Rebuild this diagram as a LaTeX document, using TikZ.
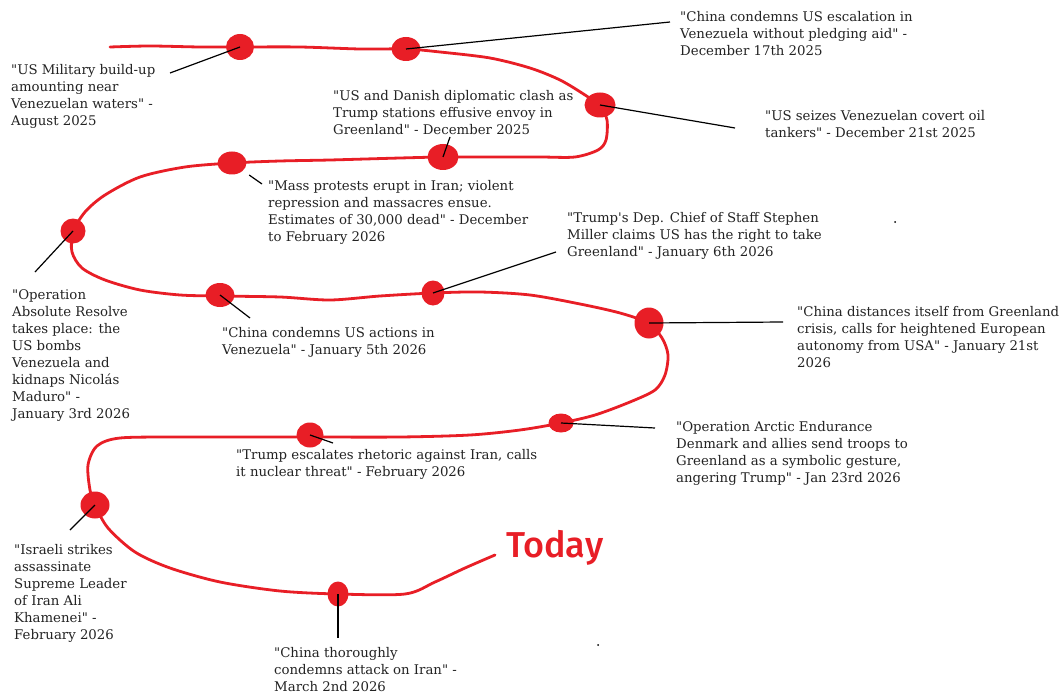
\documentclass[tikz,border=0pt]{standalone}
\usepackage{fontspec}
\usetikzlibrary{shapes.geometric}
\newfontfamily\lblfamily{DejaVu Serif}
\newfontfamily\todayfamily{Fira Sans}[UprightFont={* Medium}]
\newcommand{\lblfont}{\lblfamily\fontsize{13.3}{17}\selectfont}
\definecolor{pred}{RGB}{232,30,38}
\definecolor{ink}{RGB}{35,35,35}
\tikzset{
  evt/.style={ellipse, fill=pred, draw=none, inner sep=0pt},
  lbl/.style={anchor=north west, align=left, inner sep=0pt, font=\lblfont, text=ink, yshift=-2.5pt},
  lead/.style={draw=black, line width=1.2pt},
  route/.style={draw=pred, line width=2.8pt, line cap=round, line join=round},
  speck/.style={circle, fill=black, inner sep=0pt, minimum size=2pt}
}
\begin{document}
\begin{tikzpicture}[x=1pt,y=-1pt]
\useasboundingbox (0,0) rectangle (1062,695);
\fill[white] (0,0) rectangle (1062,695);
% the red route
\draw[route] plot[smooth, tension=0.5] coordinates {
 (110,47) (150,46) (200,47) (240,47) (300,47) (360,49) (406,49) (440,52) (490,58) (530,68) (560,80) (585,95) (600,106) (607,120) (606,140) (598,150) (575,157) (540,157) (490,157) (443,157) (400,158) (330,160) (280,161) (232,163) (185,167) (140,177) (105,195) (85,212) (73,232) (72,252) (82,268) (105,280) (140,290) (180,295) (219,296) (280,297) (330,300) (380,296) (433,293) (480,292) (530,295) (580,304) (620,313) (648,323) (662,338) (668,355) (665,375) (655,390) (630,402) (595,415) (561,423) (520,430) (470,435) (400,437) (310,437) (250,437) (180,437) (120,438) (97,446) (88,465) (90,490) (95,505) (108,528) (135,552) (170,568) (220,582) (280,591) (338,594) (405,594) (435,582) (465,568) (495,555)};
% events
\node[evt, minimum width=28pt, minimum height=26pt] (d1) at (240,47) {};
\node[evt, minimum width=29pt, minimum height=24pt] (d2) at (406,49) {};
\node[evt, minimum width=31pt, minimum height=25pt] (d3) at (600,105) {};
\node[evt, minimum width=31pt, minimum height=26pt] (d4) at (443,157) {};
\node[evt, minimum width=29pt, minimum height=23pt] (d5) at (232,163) {};
\node[evt, minimum width=25pt, minimum height=25pt] (d6) at (73,231) {};
\node[evt, minimum width=29pt, minimum height=24pt] (d7) at (220,295) {};
\node[evt, minimum width=23pt, minimum height=25pt] (d8) at (433,293) {};
\node[evt, minimum width=29pt, minimum height=31pt] (d9) at (649,323) {};
\node[evt, minimum width=25pt, minimum height=19pt] (d10) at (561,423) {};
\node[evt, minimum width=27pt, minimum height=25pt] (d11) at (310,435) {};
\node[evt, minimum width=29pt, minimum height=27pt] (d12) at (95,505) {};
\node[evt, minimum width=21pt, minimum height=25pt] (d13) at (338,594) {};
% labels
\node[lbl] (t1) at (11,62) {"US Military build-up\\amounting near\\Venezuelan waters" -\\August 2025};
\node[lbl] (t2) at (680,9) {"China condemns US escalation in\\Venezuela without pledging aid" -\\December 17th 2025};
\node[lbl] (t3) at (333,88) {"US and Danish diplomatic clash as\\Trump stations effusive envoy in\\Greenland" - December 2025};
\node[lbl] (t4) at (765,108) {"US seizes Venezuelan covert oil\\tankers" - December 21st 2025};
\node[lbl] (t5) at (268,178) {"Mass protests erupt in Iran; violent\\repression and massacres ensue.\\Estimates of 30,000 dead" - December\\to February 2026};
\node[lbl] (t6) at (567,210) {"Trump's Dep. Chief of Staff Stephen\\Miller claims US has the right to take\\Greenland" - January 6th 2026};
\node[lbl] (t7) at (12,287) {"Operation\\Absolute Resolve\\takes place: the\\US bombs\\Venezuela and\\kidnaps Nicolás\\Maduro" -\\January 3rd 2026};
\node[lbl] (t8) at (222,325) {"China condemns US actions in\\Venezuela" - January 5th 2026};
\node[lbl] (t9) at (797,304) {"China distances itself from Greenland\\crisis, calls for heightened European\\autonomy from USA" - January 21st\\2026};
\node[lbl] (t10) at (676,419) {"Operation Arctic Endurance\\Denmark and allies send troops to\\Greenland as a symbolic gesture,\\angering Trump" - Jan 23rd 2026};
\node[lbl] (t11) at (236,447) {"Trump escalates rhetoric against Iran, calls\\it nuclear threat" - February 2026};
\node[lbl] (t12) at (14,542) {"Israeli strikes\\assassinate\\Supreme Leader\\of Iran Ali\\Khamenei" -\\February 2026};
\node[lbl] (t13) at (274,645) {"China thoroughly\\condemns attack on Iran" -\\March 2nd 2026};
\node[anchor=base west, inner sep=0pt, text=pred, font=\todayfamily\fontsize{36}{40}\selectfont] (today) at (506,557) {Today};
% leader ends
\coordinate (l1) at (170,73);
\coordinate (l2) at (670,22);
\coordinate (l3) at (450,137);
\coordinate (l4) at (735,128);
\coordinate (l5) at (262,184);
\coordinate (l6) at (556,252);
\coordinate (l7) at (35,272);
\coordinate (l8) at (250,318);
\coordinate (l9) at (783,322);
\coordinate (l10) at (655,428);
\coordinate (l11) at (333,443);
\coordinate (l12) at (70,530);
\coordinate (l13) at (338,638);
\draw[lead] (d1.center) -- (l1);
\draw[lead] (d2.center) -- (l2);
\draw[lead] (d4.center) -- (l3);
\draw[lead] (d3.center) -- (l4);
\draw[lead, shorten <=21pt] (d5.center) -- (l5);
\draw[lead] (d8.center) -- (l6);
\draw[lead] (d6.center) -- (l7);
\draw[lead] (d7.center) -- (l8);
\draw[lead] (d9.center) -- (l9);
\draw[lead] (d10.center) -- (l10);
\draw[lead] (d11.center) -- (l11);
\draw[lead] (d12.center) -- (l12);
\draw[lead] (d13.center) -- (l13);
% stray specks
\node[speck] (s1) at (895,222) {};
\node[speck] (s2) at (598,645) {};
\end{tikzpicture}
\end{document}
